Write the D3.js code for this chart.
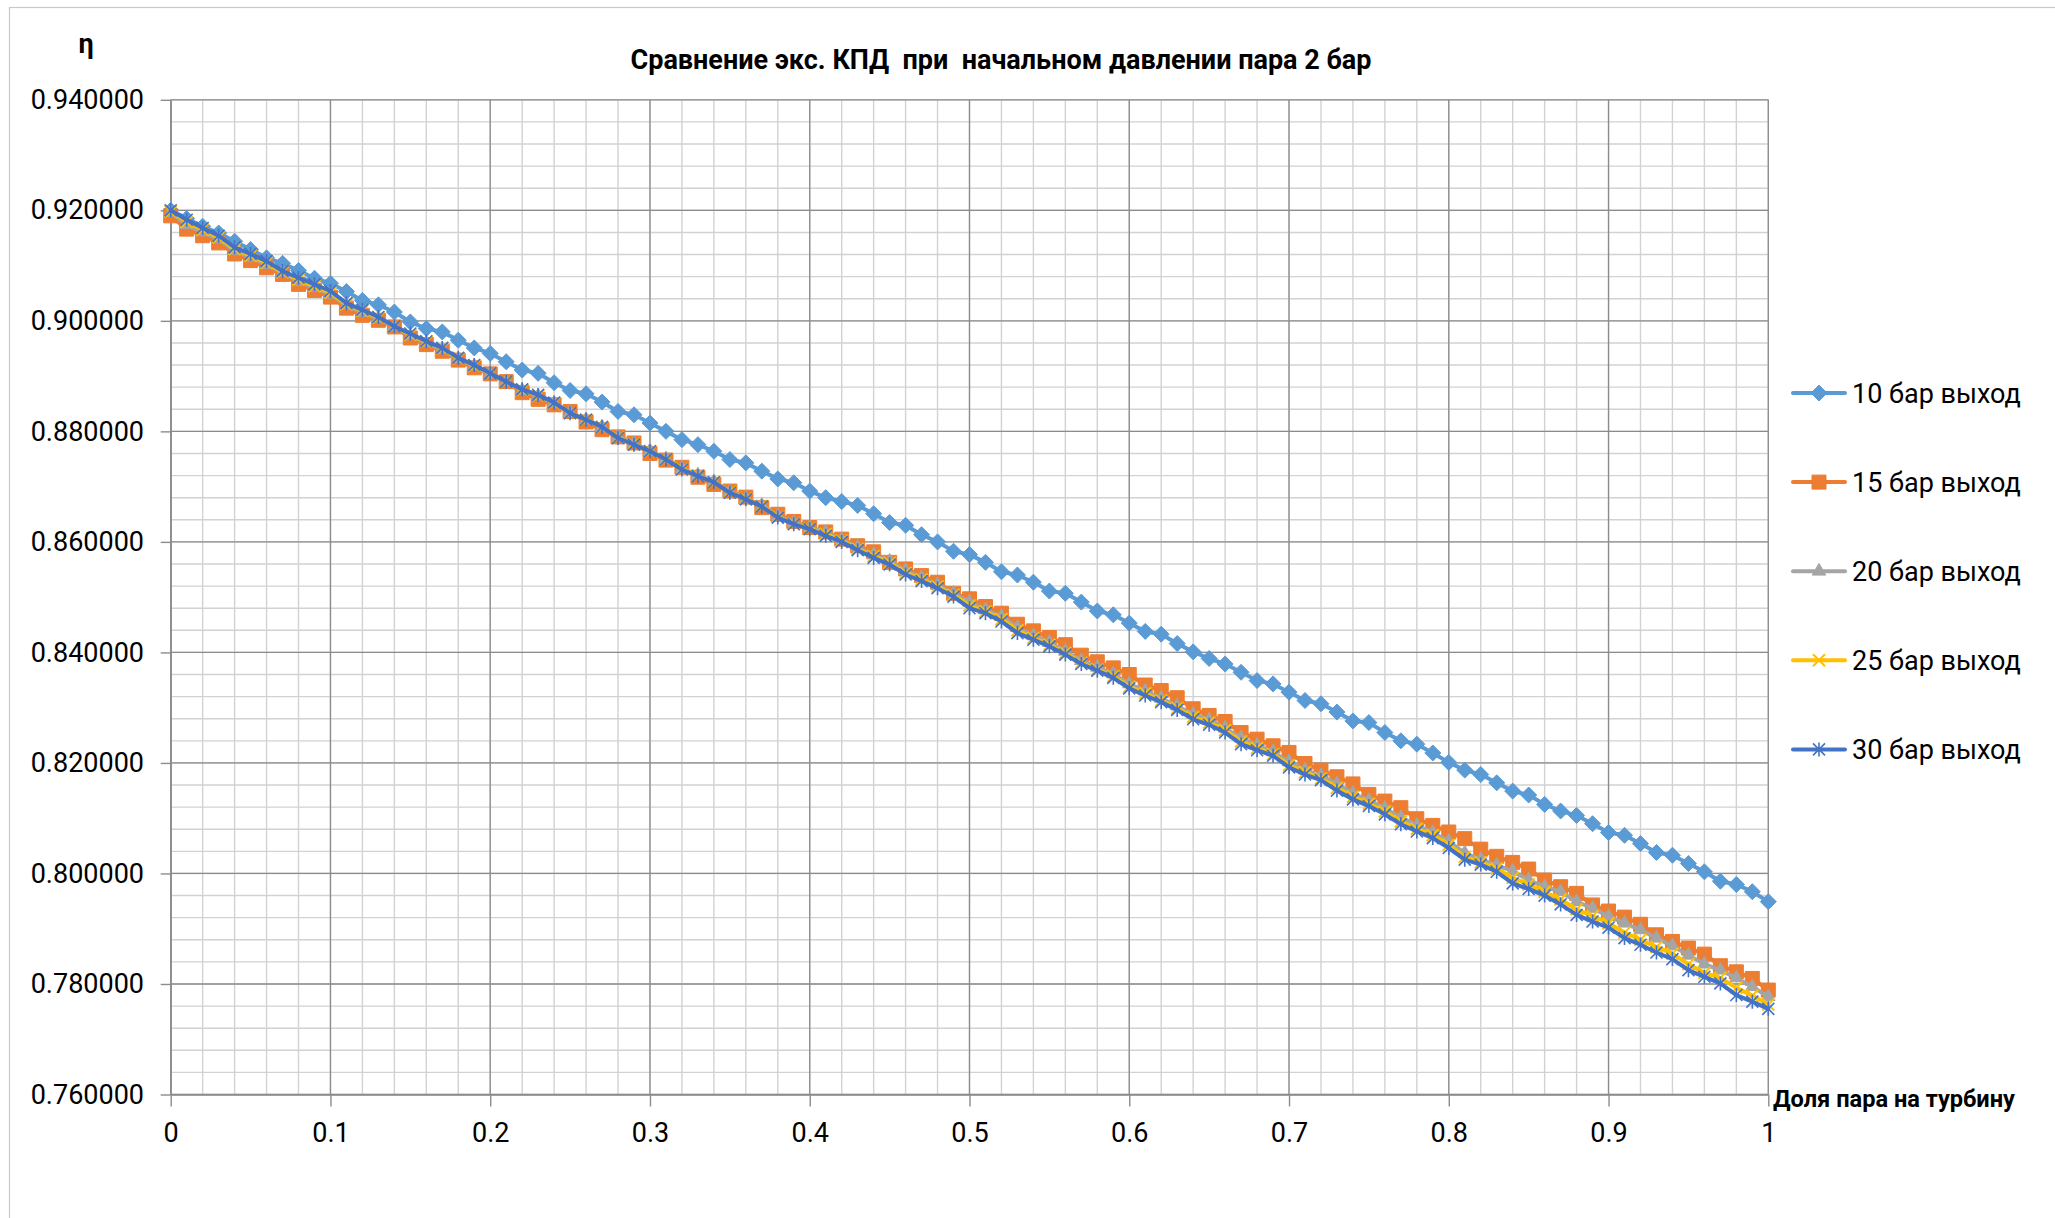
<!DOCTYPE html>
<html>
<head>
<meta charset="utf-8">
<script src="https://cdn.jsdelivr.net/npm/d3@7"></script>
<style>
  html, body { margin: 0; padding: 0; background: #fff; }
  svg text { font-family: Roboto, "Noto Sans", "DejaVu Sans", sans-serif; white-space: pre; fill: #000; }
</style>
</head>
<body>
<svg id="chart" width="2055" height="1218"></svg>
<script>
// Доля пара на турбину (x values)
const steamShare = [
  0.00, 0.01, 0.02, 0.03, 0.04, 0.05, 0.06, 0.07, 0.08, 0.09,
  0.10, 0.11, 0.12, 0.13, 0.14, 0.15, 0.16, 0.17, 0.18, 0.19,
  0.20, 0.21, 0.22, 0.23, 0.24, 0.25, 0.26, 0.27, 0.28, 0.29,
  0.30, 0.31, 0.32, 0.33, 0.34, 0.35, 0.36, 0.37, 0.38, 0.39,
  0.40, 0.41, 0.42, 0.43, 0.44, 0.45, 0.46, 0.47, 0.48, 0.49,
  0.50, 0.51, 0.52, 0.53, 0.54, 0.55, 0.56, 0.57, 0.58, 0.59,
  0.60, 0.61, 0.62, 0.63, 0.64, 0.65, 0.66, 0.67, 0.68, 0.69,
  0.70, 0.71, 0.72, 0.73, 0.74, 0.75, 0.76, 0.77, 0.78, 0.79,
  0.80, 0.81, 0.82, 0.83, 0.84, 0.85, 0.86, 0.87, 0.88, 0.89,
  0.90, 0.91, 0.92, 0.93, 0.94, 0.95, 0.96, 0.97, 0.98, 0.99,
  1.00
];

// КПД, 10 бар на выходе
const eff10 = [
  0.9200, 0.9185, 0.9171, 0.9159, 0.9144, 0.9129, 0.9114, 0.9104, 0.9091, 0.9077,
  0.9068, 0.9053, 0.9037, 0.9029, 0.9016, 0.8998, 0.8986, 0.8980, 0.8965, 0.8951,
  0.8941, 0.8926, 0.8911, 0.8905, 0.8888, 0.8874, 0.8868, 0.8853, 0.8836, 0.8830,
  0.8815, 0.8800, 0.8785, 0.8776, 0.8764, 0.8749, 0.8743, 0.8728, 0.8714, 0.8707,
  0.8692, 0.8680, 0.8673, 0.8666, 0.8651, 0.8635, 0.8630, 0.8613, 0.8600, 0.8583,
  0.8577, 0.8563, 0.8546, 0.8540, 0.8527, 0.8511, 0.8507, 0.8491, 0.8475, 0.8468,
  0.8453, 0.8438, 0.8433, 0.8416, 0.8401, 0.8389, 0.8379, 0.8364, 0.8349, 0.8343,
  0.8328, 0.8313, 0.8307, 0.8292, 0.8276, 0.8273, 0.8255, 0.8240, 0.8234, 0.8218,
  0.8201, 0.8187, 0.8179, 0.8164, 0.8149, 0.8142, 0.8125, 0.8113, 0.8105, 0.8090,
  0.8074, 0.8069, 0.8054, 0.8038, 0.8033, 0.8018, 0.8003, 0.7986, 0.7980, 0.7967,
  0.7949
];

// КПД, 15 бар на выходе
const eff15 = [
  0.9190, 0.9166, 0.9154, 0.9141, 0.9121, 0.9109, 0.9096, 0.9084, 0.9066, 0.9055,
  0.9043, 0.9023, 0.9010, 0.9001, 0.8989, 0.8969, 0.8957, 0.8945, 0.8929, 0.8915,
  0.8904, 0.8890, 0.8870, 0.8858, 0.8848, 0.8836, 0.8817, 0.8803, 0.8790, 0.8779,
  0.8760, 0.8748, 0.8735, 0.8717, 0.8704, 0.8692, 0.8681, 0.8662, 0.8650, 0.8637,
  0.8626, 0.8618, 0.8605, 0.8593, 0.8582, 0.8563, 0.8551, 0.8539, 0.8527, 0.8507,
  0.8497, 0.8483, 0.8471, 0.8451, 0.8439, 0.8427, 0.8414, 0.8395, 0.8383, 0.8372,
  0.8360, 0.8341, 0.8331, 0.8318, 0.8298, 0.8286, 0.8275, 0.8255, 0.8243, 0.8231,
  0.8219, 0.8199, 0.8187, 0.8175, 0.8162, 0.8143, 0.8131, 0.8119, 0.8099, 0.8087,
  0.8075, 0.8063, 0.8044, 0.8031, 0.8020, 0.8008, 0.7988, 0.7976, 0.7964, 0.7943,
  0.7932, 0.7921, 0.7908, 0.7889, 0.7877, 0.7865, 0.7854, 0.7833, 0.7822, 0.7810,
  0.7789
];

// КПД, 20 бар на выходе
const eff20 = [
  0.9196, 0.9174, 0.9161, 0.9148, 0.9127, 0.9115, 0.9102, 0.9087, 0.9071, 0.9060,
  0.9048, 0.9028, 0.9015, 0.9004, 0.8990, 0.8973, 0.8960, 0.8948, 0.8931, 0.8918,
  0.8904, 0.8890, 0.8874, 0.8864, 0.8851, 0.8834, 0.8821, 0.8808, 0.8790, 0.8778,
  0.8765, 0.8750, 0.8733, 0.8721, 0.8709, 0.8691, 0.8679, 0.8666, 0.8647, 0.8635,
  0.8626, 0.8617, 0.8604, 0.8590, 0.8577, 0.8565, 0.8548, 0.8535, 0.8522, 0.8507,
  0.8491, 0.8477, 0.8465, 0.8445, 0.8430, 0.8418, 0.8402, 0.8385, 0.8373, 0.8361,
  0.8343, 0.8330, 0.8317, 0.8303, 0.8288, 0.8278, 0.8263, 0.8245, 0.8232, 0.8220,
  0.8202, 0.8187, 0.8177, 0.8162, 0.8145, 0.8132, 0.8118, 0.8101, 0.8087, 0.8074,
  0.8058, 0.8037, 0.8025, 0.8015, 0.8004, 0.7988, 0.7976, 0.7967, 0.7949, 0.7937,
  0.7922, 0.7910, 0.7898, 0.7883, 0.7869, 0.7852, 0.7836, 0.7825, 0.7811, 0.7795,
  0.7777
];

// КПД, 25 бар на выходе
const eff25 = [
  0.9198, 0.9179, 0.9165, 0.9151, 0.9130, 0.9118, 0.9105, 0.9088, 0.9075, 0.9063,
  0.9051, 0.9030, 0.9018, 0.9006, 0.8990, 0.8975, 0.8962, 0.8950, 0.8932, 0.8919,
  0.8905, 0.8890, 0.8875, 0.8865, 0.8851, 0.8833, 0.8821, 0.8808, 0.8789, 0.8777,
  0.8764, 0.8749, 0.8732, 0.8720, 0.8708, 0.8690, 0.8678, 0.8665, 0.8645, 0.8633,
  0.8624, 0.8614, 0.8602, 0.8587, 0.8574, 0.8562, 0.8544, 0.8532, 0.8519, 0.8504,
  0.8485, 0.8474, 0.8460, 0.8440, 0.8426, 0.8414, 0.8399, 0.8381, 0.8369, 0.8357,
  0.8338, 0.8326, 0.8313, 0.8299, 0.8283, 0.8273, 0.8259, 0.8239, 0.8227, 0.8216,
  0.8196, 0.8183, 0.8172, 0.8155, 0.8139, 0.8126, 0.8112, 0.8094, 0.8081, 0.8069,
  0.8052, 0.8030, 0.8020, 0.8009, 0.7992, 0.7980, 0.7967, 0.7953, 0.7935, 0.7923,
  0.7910, 0.7893, 0.7880, 0.7867, 0.7855, 0.7836, 0.7820, 0.7811, 0.7793, 0.7779,
  0.7763
];

// КПД, 30 бар на выходе
const eff30 = [
  0.9200, 0.9183, 0.9168, 0.9154, 0.9133, 0.9121, 0.9108, 0.9090, 0.9078, 0.9066,
  0.9054, 0.9032, 0.9020, 0.9007, 0.8990, 0.8977, 0.8963, 0.8951, 0.8933, 0.8920,
  0.8905, 0.8890, 0.8876, 0.8866, 0.8852, 0.8833, 0.8821, 0.8808, 0.8788, 0.8776,
  0.8764, 0.8749, 0.8731, 0.8719, 0.8708, 0.8689, 0.8677, 0.8664, 0.8644, 0.8632,
  0.8623, 0.8611, 0.8600, 0.8585, 0.8571, 0.8559, 0.8541, 0.8529, 0.8516, 0.8501,
  0.8480, 0.8471, 0.8456, 0.8435, 0.8423, 0.8411, 0.8396, 0.8379, 0.8367, 0.8354,
  0.8335, 0.8322, 0.8310, 0.8296, 0.8279, 0.8269, 0.8255, 0.8234, 0.8223, 0.8213,
  0.8192, 0.8179, 0.8169, 0.8150, 0.8134, 0.8122, 0.8107, 0.8089, 0.8076, 0.8064,
  0.8046, 0.8025, 0.8016, 0.8003, 0.7982, 0.7972, 0.7960, 0.7944, 0.7925, 0.7913,
  0.7902, 0.7883, 0.7871, 0.7857, 0.7845, 0.7825, 0.7813, 0.7801, 0.7780, 0.7768,
  0.7755
];

const seriesNames = ["10 бар выход", "15 бар выход", "20 бар выход", "25 бар выход", "30 бар выход"];
const seriesColors = ["#5B9BD5", "#ED7D31", "#A5A5A5", "#FFC000", "#4472C4"];
const seriesMarkers = ["diamond", "square", "triangle", "x", "star"];

const yTickValues = [0.76, 0.78, 0.80, 0.82, 0.84, 0.86, 0.88, 0.90, 0.92, 0.94];
const xTickValues = [0, 0.1, 0.2, 0.3, 0.4, 0.5, 0.6, 0.7, 0.8, 0.9, 1];
const xTickLabels = ["0", "0.1", "0.2", "0.3", "0.4", "0.5", "0.6", "0.7", "0.8", "0.9", "1"];

const chartTitle = "Сравнение экс. КПД  при  начальном давлении пара 2 бар";
const yAxisTitle = "η";
const xAxisTitle = "Доля пара на турбину";

// ---------------------------------------------------------------------------
const W = 2055, H = 1218;
const plot = { left: 170.7, right: 1768.3, top: 99.8, bottom: 1094.5 };

const x = d3.scaleLinear().domain([0, 1]).range([plot.left, plot.right]);
const y = d3.scaleLinear().domain([0.76, 0.94]).range([plot.bottom, plot.top]);

const svg = d3.select("#chart");
svg.append("rect").attr("width", W).attr("height", H).attr("fill", "#fff");

// outer chart frame
svg.append("rect")
  .attr("x", 9.5).attr("y", 7.5)
  .attr("width", 2200).attr("height", 1400)
  .attr("fill", "none").attr("stroke", "#c8c8c8").attr("stroke-width", 1.2);

// gridlines: minor first, major on top
const yMinor = d3.range(0, 46).map(k => 0.76 + k * 0.004);
const xMinor = d3.range(0, 51).map(k => k * 0.02);
const grid = svg.append("g").attr("class", "grid");

grid.selectAll("line.ymin").data(yMinor).join("line")
  .attr("class", "ymin")
  .attr("x1", plot.left).attr("x2", plot.right)
  .attr("y1", d => y(d)).attr("y2", d => y(d))
  .attr("stroke", "#d2d2d2").attr("stroke-width", 1.4);
grid.selectAll("line.xmin").data(xMinor).join("line")
  .attr("class", "xmin")
  .attr("y1", plot.top).attr("y2", plot.bottom)
  .attr("x1", d => x(d)).attr("x2", d => x(d))
  .attr("stroke", "#d2d2d2").attr("stroke-width", 1.4);
grid.selectAll("line.ymaj").data(yTickValues).join("line")
  .attr("class", "ymaj")
  .attr("x1", plot.left).attr("x2", plot.right)
  .attr("y1", d => y(d)).attr("y2", d => y(d))
  .attr("stroke", "#8c8c8c").attr("stroke-width", 1.3);
grid.selectAll("line.xmaj").data(xTickValues).join("line")
  .attr("class", "xmaj")
  .attr("y1", plot.top).attr("y2", plot.bottom)
  .attr("x1", d => x(d)).attr("x2", d => x(d))
  .attr("stroke", "#8c8c8c").attr("stroke-width", 1.3);

// axes
const tickFont = 27;
const yAxis = d3.axisLeft(y)
  .tickValues(yTickValues)
  .tickFormat(d3.format(".6f"))
  .tickSize(10).tickSizeOuter(0).tickPadding(16.7);
const gy = svg.append("g").attr("transform", `translate(${plot.left},0)`).call(yAxis);

const xAxis = d3.axisBottom(x)
  .tickValues(xTickValues)
  .tickFormat((d, i) => xTickLabels[i])
  .tickSize(12).tickSizeOuter(0).tickPadding(16);
const gx = svg.append("g").attr("transform", `translate(0,${plot.bottom})`).call(xAxis);

[gx, gy].forEach(g => {
  g.select(".domain").attr("stroke", "#8c8c8c").attr("stroke-width", 1.4);
  g.selectAll(".tick line").attr("stroke", "#8c8c8c").attr("stroke-width", 1.4);
  g.selectAll(".tick text")
    .attr("font-family", null)
    .attr("font-size", tickFont)
    .attr("fill", "#000");
});

// titles
svg.append("text")
  .attr("x", 1001).attr("y", 69)
  .attr("text-anchor", "middle")
  .attr("font-size", 27).attr("font-weight", "bold")
  .text(chartTitle);

svg.append("text")
  .attr("x", 86).attr("y", 53)
  .attr("text-anchor", "middle")
  .attr("font-size", 27).attr("font-weight", "bold")
  .text(yAxisTitle);

svg.append("text")
  .attr("x", 1773).attr("y", 1107)
  .attr("font-size", 23.6).attr("font-weight", "bold")
  .text(xAxisTitle);

// marker shapes
function markerPath(type) {
  const p = d3.path();
  if (type === "diamond") {
    const r = 8;
    p.moveTo(0, -r); p.lineTo(r, 0); p.lineTo(0, r); p.lineTo(-r, 0); p.closePath();
  } else if (type === "square") {
    const h = 7;
    p.rect(-h, -h, 2 * h, 2 * h);
  } else if (type === "triangle") {
    const s = 13.5, hgt = s * Math.sqrt(3) / 2;
    p.moveTo(0, -hgt * 2 / 3); p.lineTo(s / 2, hgt / 3); p.lineTo(-s / 2, hgt / 3); p.closePath();
  } else if (type === "x") {
    const h = 6;
    p.moveTo(-h, -h); p.lineTo(h, h); p.moveTo(-h, h); p.lineTo(h, -h);
  } else if (type === "star") {
    const h = 6, v = 7;
    p.moveTo(-h, -h); p.lineTo(h, h); p.moveTo(-h, h); p.lineTo(h, -h);
    p.moveTo(0, -v); p.lineTo(0, v);
  }
  return p.toString();
}
function styleMarker(sel, type, color) {
  if (type === "x" || type === "star") {
    sel.attr("fill", "none").attr("stroke", color).attr("stroke-width", type === "x" ? 2 : 1.6);
  } else {
    sel.attr("fill", color).attr("stroke", color).attr("stroke-width", 1);
  }
}

const allSeries = [eff10, eff15, eff20, eff25, eff30];
const line = d3.line().x(d => x(d[0])).y(d => y(d[1]));

const seriesG = svg.append("g").attr("class", "series");
allSeries.forEach((vals, si) => {
  const pts = steamShare.map((s, i) => [s, vals[i]]);
  const g = seriesG.append("g");
  g.append("path")
    .attr("d", line(pts))
    .attr("fill", "none")
    .attr("stroke", seriesColors[si])
    .attr("stroke-width", 4)
    .attr("stroke-linejoin", "round")
    .attr("stroke-linecap", "round");
  g.selectAll("path.m").data(pts).join("path")
    .attr("class", "m")
    .attr("transform", d => `translate(${x(d[0])},${y(d[1])})`)
    .attr("d", markerPath(seriesMarkers[si]))
    .call(styleMarker, seriesMarkers[si], seriesColors[si]);
});

// legend
const legend = svg.append("g").attr("transform", "translate(1793,393)");
seriesNames.forEach((name, i) => {
  const row = legend.append("g").attr("transform", `translate(0,${i * 89.1})`);
  row.append("line")
    .attr("x1", 0).attr("x2", 52).attr("y1", 0).attr("y2", 0)
    .attr("stroke", seriesColors[i]).attr("stroke-width", 4)
    .attr("stroke-linecap", "round");
  row.append("path")
    .attr("transform", "translate(26,0)")
    .attr("d", markerPath(seriesMarkers[i]))
    .call(styleMarker, seriesMarkers[i], seriesColors[i]);
  row.append("text")
    .attr("x", 59).attr("y", 0).attr("dy", "0.36em")
    .attr("font-size", 27)
    .text(name);
});
</script>
</body>
</html>
